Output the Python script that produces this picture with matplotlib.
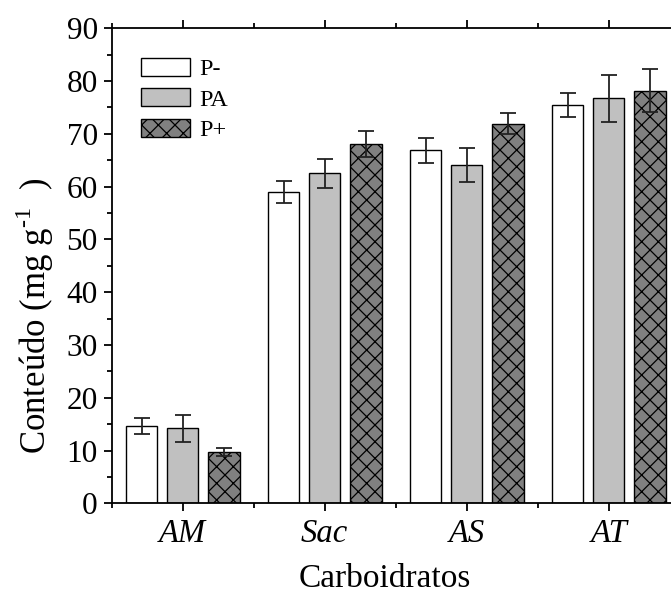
import matplotlib
matplotlib.use("Agg")
import matplotlib.pyplot as plt
import numpy as np
from matplotlib.ticker import MultipleLocator, FixedLocator

plt.rcParams['font.family'] = ['Liberation Serif', 'DejaVu Serif']
plt.rcParams['mathtext.fontset'] = 'custom'
plt.rcParams['mathtext.rm'] = 'Liberation Serif'
plt.rcParams['hatch.linewidth'] = 0.9
plt.rcParams['hatch.color'] = 'black'

categories = ['AM', 'Sac', 'AS', 'AT']
series = ['P-', 'PA', 'P+']
p_minus = [14.6, 59.0, 66.9, 75.5]
p_minus_err = [1.5, 2.1, 2.4, 2.3]
pa = [14.2, 62.5, 64.1, 76.7]
pa_err = [2.6, 2.7, 3.2, 4.4]
p_plus = [9.7, 68.1, 71.9, 78.2]
p_plus_err = [0.7, 2.5, 2.0, 4.0]

W, H = 671, 599
fig = plt.figure(figsize=(W / 100, H / 100), dpi=100)
ax_left, ax_bottom, ax_w, ax_h = 111.7, H - 503.3, 568.0, 475.0
ax = fig.add_axes([ax_left / W, ax_bottom / H, ax_w / W, ax_h / H])

x = np.arange(len(categories))
w = 0.222
off = 0.29
styles = [
    dict(facecolor='white', hatch=None),
    dict(facecolor='#c0c0c0', hatch=None),
    dict(facecolor='#808080', hatch='xx'),
]
vals = [p_minus, pa, p_plus]
errs = [p_minus_err, pa_err, p_plus_err]
for i, (v, e, st, lab) in enumerate(zip(vals, errs, styles, series)):
    ax.bar(x + (i - 1) * off, v, width=w, facecolor=st['facecolor'], hatch=st['hatch'],
           edgecolor='black', linewidth=1.0, label=lab, zorder=2)
    ax.errorbar(x + (i - 1) * off, v, yerr=e, fmt='none', ecolor='#222222',
                elinewidth=1.3, capsize=5.5, capthick=1.3, zorder=3)

ax.set_xlim(-0.5, 3.5)
ax.set_ylim(0, 90)
ax.set_xticks(x)
ax.set_xticklabels(categories, fontstyle='italic', fontsize=23.5)
ax.xaxis.set_minor_locator(FixedLocator([-0.5, 0.5, 1.5, 2.5, 3.5]))
ax.yaxis.set_major_locator(MultipleLocator(10))
ax.yaxis.set_minor_locator(MultipleLocator(5))
ax.tick_params(axis='both', which='major', direction='out', length=6, width=1.3, pad=4)
ax.tick_params(axis='y', which='major', labelsize=22.5)
ax.tick_params(axis='both', which='minor', direction='out', length=3.5, width=1.3)
ax.tick_params(axis='x', which='both', top=True)
ax.tick_params(axis='x', which='major', pad=5)
for s in ax.spines.values():
    s.set_linewidth(1.3)

ax.set_ylabel('Conteúdo (mg g$^{\\mathregular{\u2010 1}}$  )', fontsize=25)
ax.yaxis.set_label_coords((35 - ax_left) / ax_w, (503.3 - 316) / ax_h)
ax.set_xlabel('Carboidratos', fontsize=24)
ax.xaxis.set_label_coords((385 - ax_left) / ax_w, (503.3 - 579) / ax_h)
ax.xaxis.label.set_verticalalignment('center')
ax.yaxis.label.set_verticalalignment('center')

leg = ax.legend(loc='upper left', bbox_to_anchor=((141 - ax_left) / ax_w, (503.3 - 58) / ax_h),
                frameon=False, fontsize=17.5, handlelength=2.0, handleheight=0.75,
                labelspacing=0.33, handletextpad=0.4, borderaxespad=0, borderpad=0)

fig.savefig('out.png', dpi=100)
